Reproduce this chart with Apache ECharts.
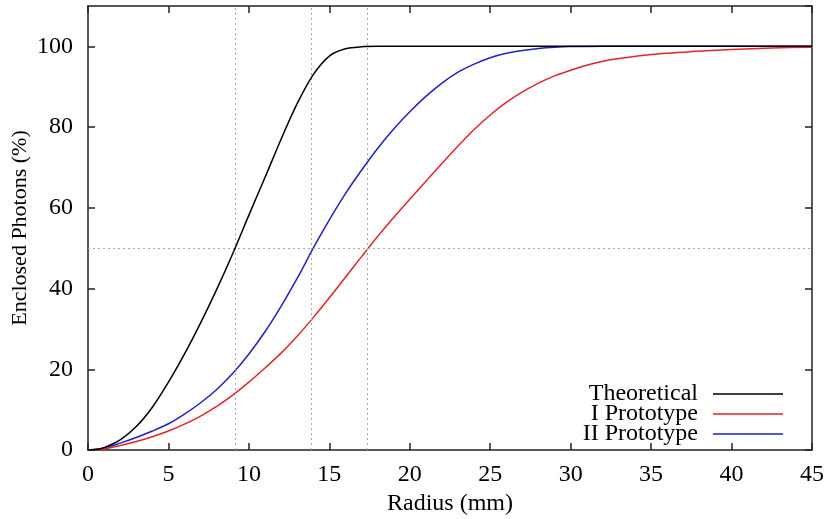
<!DOCTYPE html>
<html>
<head>
<meta charset="utf-8">
<script src="https://cdn.jsdelivr.net/npm/echarts@6/dist/echarts.min.js"></script>
<style>html,body{margin:0;padding:0;background:#fff;}#c{width:832px;height:519px;}</style>
</head>
<body>
<div id="c"></div>
<script>
// ---- data ----
const theoR = [0, 0.5, 1, 2, 3, 4, 5, 6, 7, 8, 9, 10, 11, 12, 13, 14, 15, 16, 17, 18, 20, 25, 30, 35, 40, 45];
const theoY = [0, 0.15, 0.6, 2.5, 5.8, 10.6, 16.8, 23.8, 31.5, 39.8, 48.7, 58.2, 67.5, 77, 85.8, 93, 97.6, 99.4, 99.9, 100, 100, 100, 100, 100, 100, 100];

const proto1R = [0, 1, 2, 3, 4, 5, 6, 7, 8, 9, 10, 11, 12, 13, 14, 15, 16, 17, 18, 19, 20, 21, 22, 23, 24, 25, 26, 27, 28, 29, 30, 31, 32, 33, 35, 37.5, 40, 42.5, 45];
const proto1Y = [0, 0.3, 1.1, 2.1, 3.3, 4.7, 6.4, 8.4, 10.8, 13.6, 16.8, 20.3, 24.0, 28.2, 32.8, 37.7, 42.8, 47.9, 52.9, 57.6, 62.1, 66.6, 71.0, 75.3, 79.4, 83.0, 86.1, 88.7, 90.9, 92.7, 94.1, 95.3, 96.3, 97.0, 98.0, 98.7, 99.2, 99.6, 99.8];

const proto2R = [0, 1, 2, 3, 4, 5, 6, 7, 8, 9, 10, 11, 12, 13, 14, 15, 16, 17, 18, 19, 20, 21, 22, 23, 24, 25, 26, 27, 28, 29, 30, 32, 35, 40, 45];
const proto2Y = [0, 0.5, 1.7, 3.1, 4.7, 6.5, 8.9, 11.7, 15.0, 19.0, 23.8, 29.3, 35.6, 42.5, 50.0, 57.0, 63.5, 69.3, 74.7, 79.5, 83.8, 87.6, 90.9, 93.6, 95.6, 97.2, 98.3, 99.0, 99.5, 99.8, 99.95, 100, 100, 100, 100];

const seriesNames = ['Theoretical', 'I Prototype', 'II Prototype'];
const halfRadii = [9.15, 13.9, 17.35];   // vertical dotted lines (50% radii)
const halfLevel = 50;                     // horizontal dotted line
const xTicks = [0, 45, 5];  // min, max, interval
const yTicks = [0, 110, 20];

// ---- chart ----
const pair = (xs, ys) => xs.map((x, i) => [x, ys[i]]);
const FONT = 'Liberation Serif';
const axisLineStyle = { color: '#222', width: 1.5 };

const chart = echarts.init(document.getElementById('c'), null, { renderer: 'canvas' });

const dotted = { type: [2, 3], color: '#aaa', width: 1 };

chart.setOption({
  animation: false,
  backgroundColor: '#fff',
  textStyle: { fontFamily: FONT, color: '#000' },
  grid: { left: 88, right: 20, top: 6, bottom: 69, containLabel: false, outerBoundsMode: 'none' },
  legend: {
    orient: 'vertical',
    right: 49,
    top: 382,
    padding: 0,
    align: 'right',
    itemWidth: 70,
    itemHeight: 1.5,
    itemGap: -4,
    icon: 'rect',
    data: seriesNames,
    textStyle: { fontFamily: FONT, fontSize: 24, color: '#000', padding: [0, 10, 0, 0], lineHeight: 20.5 }
  },
  xAxis: [{
    type: 'value', min: xTicks[0], max: xTicks[1], interval: xTicks[2],
    name: 'Radius (mm)', nameLocation: 'middle', nameGap: 42, nameMoveOverlap: false,
    nameTextStyle: { fontFamily: FONT, fontSize: 24, color: '#000' },
    axisLine: { show: true, onZero: false, lineStyle: axisLineStyle },
    axisTick: { show: true, inside: true, length: 7, lineStyle: axisLineStyle },
    axisLabel: { fontFamily: FONT, fontSize: 24, color: '#000', margin: 13 },
    splitLine: { show: false }
  }, {
    type: 'value', position: 'top', min: xTicks[0], max: xTicks[1], interval: xTicks[2],
    axisLine: { show: true, onZero: false, lineStyle: axisLineStyle },
    axisTick: { show: true, inside: true, length: 7, lineStyle: axisLineStyle },
    axisLabel: { show: false },
    splitLine: { show: false }
  }],
  yAxis: [{
    type: 'value', min: yTicks[0], max: yTicks[1], interval: yTicks[2],
    name: 'Enclosed Photons (%)', nameLocation: 'middle', nameGap: 57, nameMoveOverlap: false,
    nameTextStyle: { fontFamily: FONT, fontSize: 22, color: '#000' },
    axisLine: { show: true, onZero: false, lineStyle: axisLineStyle },
    axisTick: { show: true, inside: true, length: 7, lineStyle: axisLineStyle },
    axisLabel: { fontFamily: FONT, fontSize: 24, color: '#000', margin: 15, showMaxLabel: false,
      formatter: v => (v > 100 ? '' : String(v)) },
    splitLine: { show: false }
  }, {
    type: 'value', position: 'right', min: yTicks[0], max: yTicks[1], interval: yTicks[2],
    axisLine: { show: true, onZero: false, lineStyle: axisLineStyle },
    axisTick: { show: true, inside: true, length: 7, lineStyle: axisLineStyle },
    axisLabel: { show: false },
    splitLine: { show: false }
  }],
  series: [{
    name: seriesNames[0], type: 'line', data: pair(theoR, theoY),
    showSymbol: false, symbol: 'none', smooth: 0.3, color: '#000',
    lineStyle: { color: '#000', width: 1.5 },
    z: 5,
    markLine: {
      silent: true, symbol: 'none', label: { show: false },
      lineStyle: dotted,
      data: halfRadii.map(v => ({ xAxis: v })).concat([{ yAxis: halfLevel }])
    }
  }, {
    name: seriesNames[1], type: 'line', data: pair(proto1R, proto1Y),
    showSymbol: false, symbol: 'none', smooth: 0.3, color: '#e0262c',
    lineStyle: { color: '#e0262c', width: 1.5 }, z: 4
  }, {
    name: seriesNames[2], type: 'line', data: pair(proto2R, proto2Y),
    showSymbol: false, symbol: 'none', smooth: 0.3, color: '#2121c8',
    lineStyle: { color: '#2121c8', width: 1.5 }, z: 3
  }]
});
</script>
</body>
</html>
